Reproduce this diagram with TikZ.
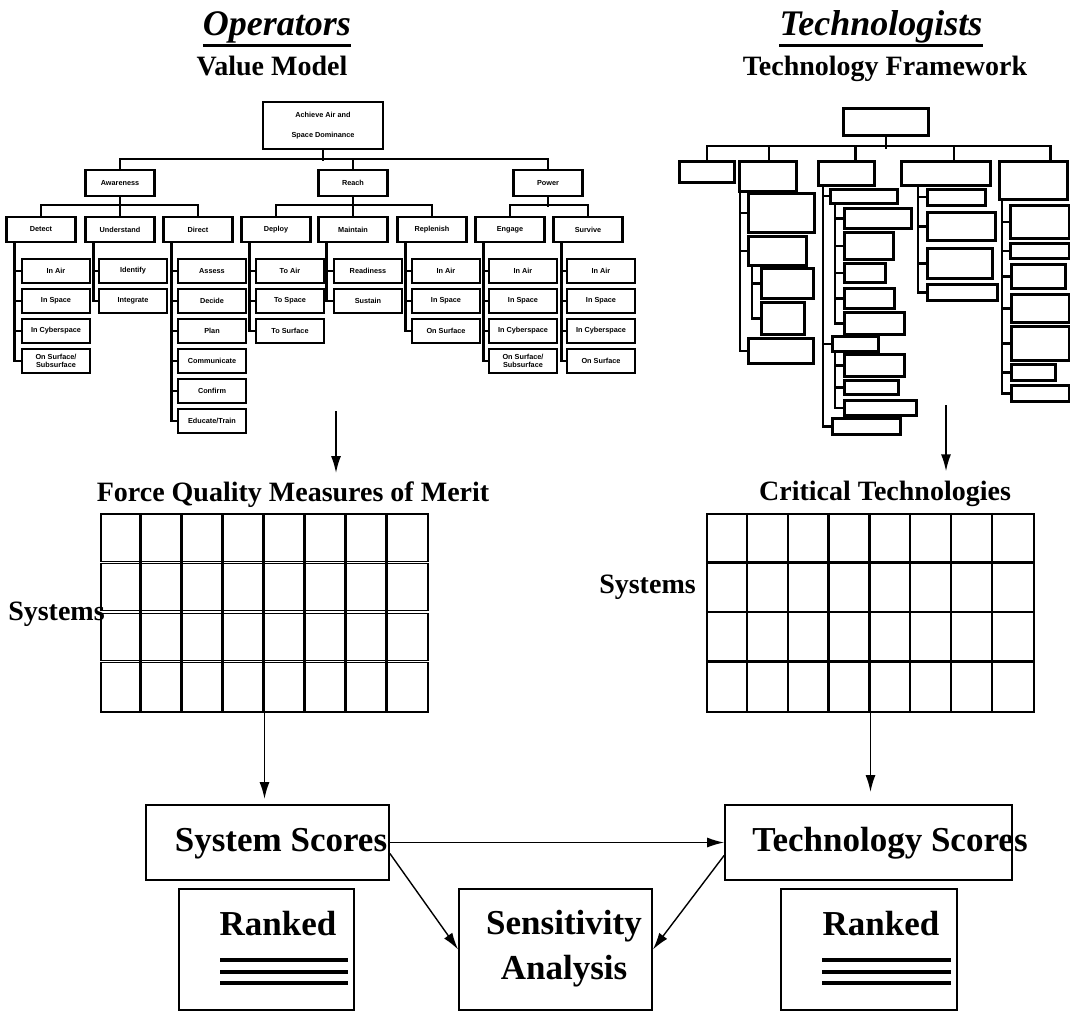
\documentclass[tikz,border=0pt]{standalone}
\usepackage{fontspec}
\setmainfont{Liberation Serif}
\newfontfamily\treefont{Liberation Sans}
\usetikzlibrary{arrows.meta}
% empty box of the technology framework: name, left, top, width, height
\newcommand{\fwbox}[5]{\node[fw, anchor=north west, minimum width=#4pt, minimum height=#5pt] (#1) at (#2,#3) {};}

\begin{document}
\begin{tikzpicture}[x=1pt, y=-1pt,
  vm/.style={draw, line width=2.3pt, inner sep=0pt, minimum width=68pt, minimum height=24pt, align=center, font=\treefont\bfseries\fontsize{7.3}{8}\selectfont},
  fw/.style={draw, line width=2.6pt, inner sep=0pt},
  tie/.style={line width=2.4pt},
  arr/.style={-{Latex[length=17pt,width=10pt]}, line width=1.8pt},
  bx/.style={draw, line width=1.8pt, inner sep=0pt},
  big/.style={font=\bfseries\fontsize{35}{45}\selectfont, inner sep=0pt},
  head/.style={font=\bfseries\fontsize{28}{30}\selectfont, anchor=base, inner sep=0pt},
  team/.style={font=\bfseries\itshape\fontsize{36}{40}\selectfont, anchor=base, inner sep=0pt}]
\useasboundingbox (0,0) rectangle (1070,1011);

% titles
\node[team] (op) at (277,36) {Operators};
\draw[line width=3pt] ([yshift=-1.5pt]op.south west) -- ([yshift=-1.5pt]op.south east);
\node[head] (vmod) at (272,76) {Value Model};
\node[team] (tech) at (881,36) {Technologists};
\draw[line width=3pt] ([yshift=-1.5pt]tech.south west) -- ([yshift=-1.5pt]tech.south east);
\node[head] (tfw) at (885,76) {Technology Framework};

% value model
\node[vm, minimum width=120pt, minimum height=47pt, font=\treefont\bfseries\fontsize{7.3}{20}\selectfont] (goal) at (323,125.5) {Achieve Air and\\Space Dominance};
\node[vm, minimum width=69pt, minimum height=26pt] (aware) at (120,183) {Awareness};
\node[vm, minimum width=69pt, minimum height=26pt] (reach) at (353,183) {Reach};
\node[vm, minimum width=69pt, minimum height=26pt] (power) at (548,183) {Power};
\draw[tie] (goal.south) -- ++(0,11);
\draw[tie] (aware.north) -- ++(0,-10) -| (power.north);
\draw[tie] (reach.north) -- ++(0,-10);

\foreach \n/\t/\x in {detect/Detect/41, underst/Understand/120, direct/Direct/198, deploy/Deploy/276, maint/Maintain/353, replen/Replenish/432, engage/Engage/510, survive/Survive/588}
  \node[vm, minimum width=69pt, minimum height=25pt] (\n) at (\x,229.5) {\t};
\draw[tie] (detect.north) -- ++(0,-11) -| (direct.north);
\draw[tie] (aware.south) -- ++(0,10);
\draw[tie] (underst.north) -- ++(0,-11);
\draw[tie] (deploy.north) -- ++(0,-11) -| (replen.north);
\draw[tie] (reach.south) -- ++(0,10);
\draw[tie] (maint.north) -- ++(0,-11);
\draw[tie] (engage.north) -- ++(0,-11) -| (survive.north);
\draw[tie] (power.south) -- ++(0,10);

\foreach \t [count=\i] in {In Air, In Space, In Cyberspace, {On Surface/\\Subsurface}} {
  \node[vm] (detect-\i) at (56,241+30*\i) {\t};
  \draw[tie] ([xshift=9pt]detect.south west) |- (detect-\i.west);
}
\foreach \t [count=\i] in {Identify, Integrate} {
  \node[vm] (underst-\i) at (133,241+30*\i) {\t};
  \draw[tie] ([xshift=9pt]underst.south west) |- (underst-\i.west);
}
\foreach \t [count=\i] in {Assess, Decide, Plan, Communicate, Confirm, Educate/Train} {
  \node[vm] (direct-\i) at (212,241+30*\i) {\t};
  \draw[tie] ([xshift=9pt]direct.south west) |- (direct-\i.west);
}
\foreach \t [count=\i] in {To Air, To Space, To Surface} {
  \node[vm] (deploy-\i) at (290,241+30*\i) {\t};
  \draw[tie] ([xshift=9pt]deploy.south west) |- (deploy-\i.west);
}
\foreach \t [count=\i] in {Readiness, Sustain} {
  \node[vm] (maint-\i) at (368,241+30*\i) {\t};
  \draw[tie] ([xshift=9pt]maint.south west) |- (maint-\i.west);
}
\foreach \t [count=\i] in {In Air, In Space, On Surface} {
  \node[vm] (replen-\i) at (446,241+30*\i) {\t};
  \draw[tie] ([xshift=9pt]replen.south west) |- (replen-\i.west);
}
\foreach \t [count=\i] in {In Air, In Space, In Cyberspace, {On Surface/\\Subsurface}} {
  \node[vm] (engage-\i) at (523,241+30*\i) {\t};
  \draw[tie] ([xshift=9pt]engage.south west) |- (engage-\i.west);
}
\foreach \t [count=\i] in {In Air, In Space, In Cyberspace, On Surface} {
  \node[vm] (survive-\i) at (601,241+30*\i) {\t};
  \draw[tie] ([xshift=9pt]survive.south west) |- (survive-\i.west);
}

% technology framework
\fwbox{froot}{842}{107}{85}{27}
\fwbox{fa}{678}{160}{55}{21}
\fwbox{fb}{738}{160}{57}{30}
\fwbox{fc}{817}{160}{56}{24}
\fwbox{fd}{900}{160}{89}{24}
\fwbox{fe}{998}{160}{68}{38}
\fwbox{fb1}{747}{192}{66}{39}
\fwbox{fb2}{747}{235}{58}{29}
\fwbox{fb2a}{760}{267}{52}{30}
\fwbox{fb2b}{760}{301}{43}{32}
\fwbox{fb3}{747}{337}{65}{25}
\fwbox{fc1}{829}{188}{67}{14}
\fwbox{fc1a}{843}{207}{67}{20}
\fwbox{fc1b}{843}{231}{49}{27}
\fwbox{fc1c}{843}{262}{41}{19}
\fwbox{fc1d}{843}{287}{50}{20}
\fwbox{fc1e}{843}{311}{60}{22}
\fwbox{fc2}{831}{335}{46}{15}
\fwbox{fc2a}{843}{353}{60}{22}
\fwbox{fc2b}{843}{379}{54}{14}
\fwbox{fc2c}{843}{399}{72}{15}
\fwbox{fc3}{831}{417}{68}{16}
\fwbox{fd1}{926}{188}{58}{16}
\fwbox{fd2}{926}{211}{68}{28}
\fwbox{fd3}{926}{247}{65}{30}
\fwbox{fd4}{926}{283}{70}{16}
\fwbox{fe1}{1009}{204}{59}{33}
\fwbox{fe2}{1009}{242}{59}{15}
\fwbox{fe3}{1010}{263}{54}{24}
\fwbox{fe4}{1010}{293}{58}{28}
\fwbox{fe5}{1010}{325}{58}{34}
\fwbox{fe6}{1010}{363}{44}{16}
\fwbox{fe7}{1010}{384}{58}{16}
\draw[tie] (froot.south) -- ++(0,12);
\draw[tie] (fa.north) -- ++(0,-14) -| ([xshift=17pt]fe.north);
\foreach \n/\d in {fb/1, fc/9, fd/8}
  \draw[tie] ([xshift=\d pt]\n.north) -- ++(0,-14);
\foreach \c in {fb1, fb2, fb3}
  \draw[tie] ([xshift=2pt]fb.south west) |- (\c.west);
\foreach \c in {fb2a, fb2b}
  \draw[tie] ([xshift=5pt]fb2.south west) |- (\c.west);
\foreach \c in {fc1, fc2, fc3}
  \draw[tie] ([xshift=6pt]fc.south west) |- (\c.west);
\foreach \c in {fc1a, fc1b, fc1c, fc1d, fc1e}
  \draw[tie] ([xshift=6pt]fc1.south west) |- (\c.west);
\foreach \c in {fc2a, fc2b, fc2c}
  \draw[tie] ([xshift=4pt]fc2.south west) |- (\c.west);
\foreach \c in {fd1, fd2, fd3, fd4}
  \draw[tie] ([xshift=18pt]fd.south west) |- (\c.west);
\foreach \c in {fe1, fe2, fe3, fe4, fe5, fe6, fe7}
  \draw[tie] ([xshift=4pt]fe.south west) |- (\c.west);

% matrices
\node[head] (fqm) at (293,501) {Force Quality Measures of Merit};
\node[bx, line width=2pt] (qgrid) at (264.5,613) [minimum width=327pt, minimum height=198pt] {};
\foreach \k in {1,2,3}
  \draw[line width=1.1pt, double, double distance=1.5pt] ([yshift=-\k*49.5pt]qgrid.north west) -- ([yshift=-\k*49.5pt]qgrid.north east);
\foreach \k in {1,...,7}
  \draw[line width=3pt] ([xshift=\k*40.875pt]qgrid.north west) -- ([xshift=\k*40.875pt]qgrid.south west);
\node[head] (sysl) at (56.5,620) {Systems};

\node[head] (crit) at (885,500) {Critical Technologies};
\node[bx, line width=2.2pt] (cgrid) at (870.5,613) [minimum width=327pt, minimum height=198pt] {};
\foreach \k in {1,2,3}
  \draw[line width=2.2pt] ([yshift=-\k*49.5pt]cgrid.north west) -- ([yshift=-\k*49.5pt]cgrid.north east);
\foreach \k in {1,...,7}
  \draw[line width=2.2pt] ([xshift=\k*40.875pt]cgrid.north west) -- ([xshift=\k*40.875pt]cgrid.south west);
\node[head] (sysr) at (647.5,593) {Systems};

\coordinate (vmout) at (336,411);
\coordinate (tfout) at (946,405);
\draw[arr, shorten >=8pt] (vmout) -- (vmout |- fqm.north);
\draw[arr, shorten >=9pt] (tfout) -- (tfout |- crit.north);

% scores
\node[bx, minimum width=243pt, minimum height=75pt] (sysbox) at (267.5,842.5) {};
\node[big, anchor=base] (syslab) at (281,851) {System Scores};
\node[bx, minimum width=287pt, minimum height=75pt] (techbox) at (868.5,842.5) {};
\node[big, anchor=base] (techlab) at (890,851) {Technology Scores};
\draw[arr, shorten >=5pt] (qgrid.south) -- (qgrid.south |- sysbox.north);
\draw[arr, shorten >=12pt] (cgrid.south) -- (cgrid.south |- techbox.north);

\node[bx, minimum width=175pt, minimum height=121pt] (rankl) at (266.5,949.5) {};
\node[big, anchor=base] (ranklab) at (278,935) {Ranked};
\foreach \yy in {960,972,983}
  \draw[line width=3.2pt] (220,\yy) -- (348,\yy);
\node[bx, minimum width=176pt, minimum height=121pt] (rankr) at (869,949.5) {};
\node[big, anchor=base] (rankrlab) at (881,935) {Ranked};
\foreach \yy in {960,972,983}
  \draw[line width=3.2pt] (822,\yy) -- (951,\yy);

\node[bx, minimum width=193pt, minimum height=121pt] (sensbox) at (555.5,949.5) {};
\node[big, align=center] (senslab) at (564,949) {Sensitivity\\Analysis};

\draw[arr, line width=1.4pt] (sysbox.east) -- (techbox.west);
\draw[arr, line width=1.4pt] ([yshift=-11pt]sysbox.east) -- (sensbox.west);
\draw[arr, line width=1.4pt] ([yshift=-13pt]techbox.west) -- (sensbox.east);
\end{tikzpicture}
\end{document}
